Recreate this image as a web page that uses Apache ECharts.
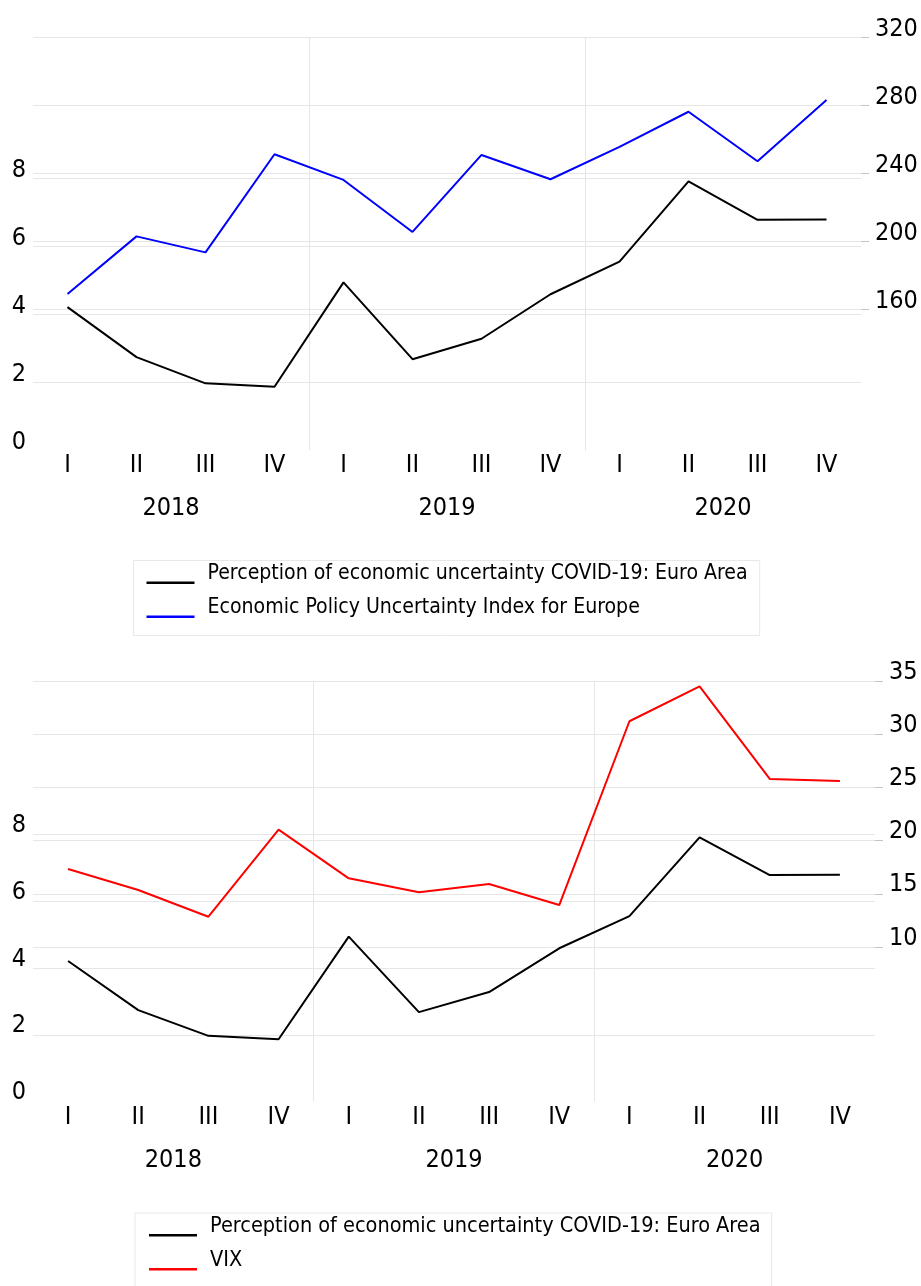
<!DOCTYPE html>
<html>
<head>
<meta charset="utf-8">
<script src="https://cdn.jsdelivr.net/npm/echarts@6/dist/echarts.min.js"></script>
<style>
  html, body { margin: 0; padding: 0; background: #fff; }
  #chart { width: 921px; height: 1286px; }
</style>
</head>
<body>
<div id="chart"></div>
<script>
var quarters = ['I', 'II', 'III', 'IV', 'I', 'II', 'III', 'IV', 'I', 'II', 'III', 'IV'];
var years = ['2018', '2019', '2020'];

var perception = [4.21, 2.74, 1.97, 1.87, 4.94, 2.68, 3.28, 4.59, 5.55, 7.91, 6.78, 6.79];
var epu = [169.0, 202.9, 193.5, 251.2, 236.1, 205.5, 250.8, 236.5, 255.6, 276.2, 247.1, 283.1];
var vix = [17.34, 15.36, 12.85, 21.04, 16.46, 15.15, 15.93, 13.95, 31.24, 34.53, 25.81, 25.62];

var leftTicks = [0, 2, 4, 6, 8];
var epuTicks = [160, 200, 240, 280, 320];
var vixTicks = [10, 15, 20, 25, 30, 35];

var perceptionName = 'Perception of economic uncertainty COVID-19: Euro Area';
var epuName = 'Economic Policy Uncertainty Index for Europe';
var vixName = 'VIX';

var FONT = '"DejaVu Sans Condensed", "DejaVu Sans", sans-serif';
var GRID_COLOR = '#e6e6e6';
var LEGEND_ICON = 'path://M0,0L56,0M0,24L56,24M0,20L48,20L48,22.5L0,22.5Z';

var grid = [], xAxis = [], yAxis = [], series = [], legend = [];

function tickLabel(extra) {
    var s = {fontSize: 25, lineHeight: 25, color: '#000', fontFamily: FONT};
    for (var k in extra) s[k] = extra[k];
    return s;
}

function addPanel(p) {
    var g0 = grid.length;
    var base = {left: p.left, width: p.width, outerBoundsMode: 'none', containLabel: false};
    grid.push(Object.assign({top: p.top, height: p.bottom - p.top}, base));
    // left axis only spans 0..8, right axis only spans its labelled ticks
    grid.push(Object.assign({top: p.leftTop, height: p.bottom - p.leftTop}, base));
    grid.push(Object.assign({top: p.top, height: p.rightBottom - p.top}, base));

    var x0 = xAxis.length;
    xAxis.push({
        type: 'category', gridIndex: g0, data: quarters, position: 'bottom',
        axisLine: {show: false}, axisTick: {show: false},
        axisLabel: tickLabel({margin: p.xMargin, interval: 0}),
        splitLine: {show: false}
    });
    xAxis.push({
        type: 'category', gridIndex: g0, data: years, position: 'bottom', offset: 43,
        axisLine: {show: false}, axisTick: {show: false},
        axisLabel: tickLabel({margin: p.xMargin, interval: 0}),
        splitLine: {show: false}
    });
    // year separators
    xAxis.push({
        type: 'value', gridIndex: g0, position: 'bottom', min: 0, max: quarters.length, interval: 4,
        axisLine: {show: false}, axisTick: {show: false}, axisLabel: {show: false},
        splitLine: {show: true, showMinLine: false, showMaxLine: false, lineStyle: {color: GRID_COLOR, width: 1}}
    });
    xAxis.push({type: 'category', gridIndex: g0 + 1, data: quarters, show: false});
    xAxis.push({type: 'category', gridIndex: g0 + 2, data: quarters, show: false});

    var y0 = yAxis.length;
    yAxis.push({type: 'value', gridIndex: g0, show: false});
    yAxis.push({
        type: 'value', gridIndex: g0 + 1, position: 'left',
        min: leftTicks[0], max: leftTicks[leftTicks.length - 1], interval: leftTicks[1] - leftTicks[0],
        axisLine: {show: false}, axisTick: {show: false},
        axisLabel: tickLabel({margin: 7, verticalAlign: 'bottom', lineHeight: p.lift}),
        splitLine: {show: true, showMinLine: false, lineStyle: {color: GRID_COLOR, width: 1}}
    });
    var rt = p.rightTicks;
    yAxis.push({
        type: 'value', gridIndex: g0 + 2, position: 'right',
        min: rt[0], max: rt[rt.length - 1], interval: rt[1] - rt[0],
        axisLine: {show: false},
        axisTick: {show: true, length: 8, lineStyle: {color: '#c4c4c4', width: 1}},
        axisLabel: tickLabel({margin: 14, verticalAlign: 'bottom', lineHeight: p.lift}),
        splitLine: {show: true, lineStyle: {color: GRID_COLOR, width: 1}}
    });

    series.push({
        type: 'line', name: perceptionName, data: perception,
        xAxisIndex: x0 + 3, yAxisIndex: y0 + 1,
        symbol: 'none', color: '#000', lineStyle: {color: '#000', width: 2},
        emphasis: {disabled: true}, z: 3
    });
    series.push({
        type: 'line', name: p.rightName, data: p.rightData,
        xAxisIndex: x0 + 4, yAxisIndex: y0 + 2,
        symbol: 'none', color: p.rightColor, lineStyle: {color: p.rightColor, width: 2},
        emphasis: {disabled: true}, z: 3
    });

    legend.push({
        data: [perceptionName, p.rightName],
        orient: 'vertical', left: p.legendLeft, top: p.legendTop, height: 200,
        padding: p.legendPadding, itemGap: 10,
        itemWidth: 56, itemHeight: 24, icon: LEGEND_ICON,
        itemStyle: {borderWidth: 0},
        selectedMode: false,
        borderColor: '#e8e8e8', borderWidth: 1, backgroundColor: '#fff',
        textStyle: {fontSize: p.legendFont, lineHeight: 24, color: '#000', fontFamily: FONT}
    });
}

addPanel({
    left: 33, width: 828, top: 37.3, bottom: 450.3, leftTop: 178.3, rightBottom: 309.3, lift: 16, xMargin: 3,
    rightTicks: epuTicks, rightData: epu, rightName: epuName, rightColor: '#0000ff',
    legendLeft: 133.5, legendTop: 560.5, legendPadding: [1, 12, 16, 13], legendFont: 21.1
});
addPanel({
    left: 33, width: 842, top: 681.3, bottom: 1101.7, leftTop: 834.3, rightBottom: 947, lift: 18, xMargin: 3,
    rightTicks: vixTicks, rightData: vix, rightName: vixName, rightColor: '#ff0000',
    legendLeft: 135, legendTop: 1213, legendPadding: [1, 11, 16, 14], legendFont: 21.5
});

var chart = echarts.init(document.getElementById('chart'), null, {renderer: 'canvas'});
chart.setOption({
    animation: false,
    backgroundColor: '#fff',
    grid: grid,
    xAxis: xAxis,
    yAxis: yAxis,
    legend: legend,
    series: series
});
</script>
</body>
</html>
